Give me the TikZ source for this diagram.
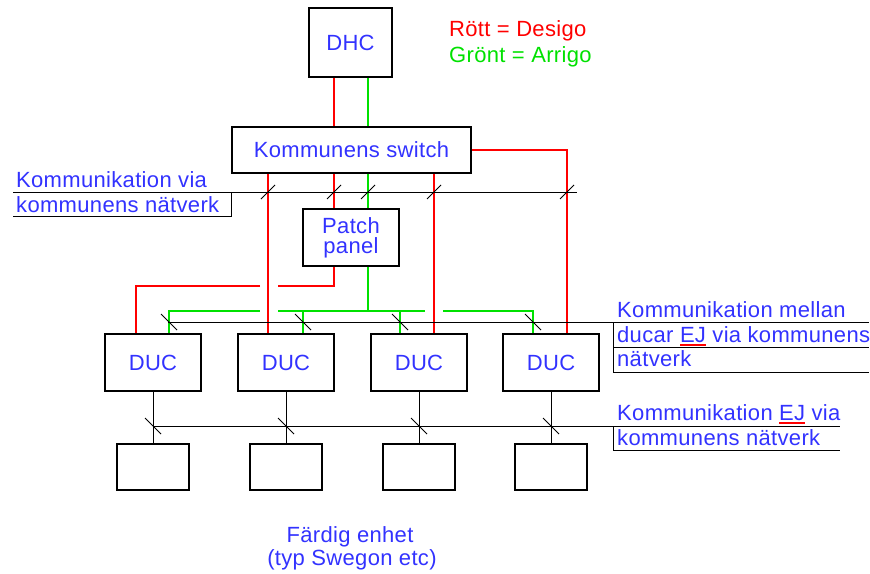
\documentclass[tikz,border=0pt]{standalone}
\usepackage{fontspec}
\setmainfont{Liberation Sans}[LetterSpace=1.5]
\usetikzlibrary{calc}

\definecolor{txtblue}{RGB}{50,50,255}
\definecolor{netred}{RGB}{255,0,0}
\definecolor{netgreen}{RGB}{0,225,0}

% EJ with red underline
\newcommand{\ejmark}{\setbox0=\hbox{EJ}\rlap{\color{netred}\rule[-4pt]{\wd0}{2.5pt}}EJ}

\tikzset{
  unitbox/.style={draw, line width=1.6pt, inner sep=0pt, minimum width=96, minimum height=57, text=txtblue},
  endbox/.style={draw, line width=1.6pt, inner sep=0pt, minimum width=72, minimum height=46},
  note/.style={inner sep=0pt, text=txtblue},
  redline/.style={netred, line width=1.6pt},
  greenline/.style={netgreen, line width=1.6pt},
  bus/.style={black, line width=0.8pt},
}

\begin{document}
\begin{tikzpicture}[x=1pt, y=-1pt, font=\fontsize{22}{24}\selectfont]
    \useasboundingbox (0,0) rectangle (870,573);
    \node[unitbox, minimum width=83, minimum height=69] (dhc) at (350.5,42.5) {DHC};
    \node[unitbox, minimum width=239, minimum height=46] (sw) at (351.5,150) {Kommunens switch};
    \node[unitbox, align=center] (patch) at (351,237.5) {Patch\\[-4pt]panel};
    \node[unitbox] (duc1) at (153,362.5) {DUC};
    \node[unitbox] (duc2) at (286,362.5) {DUC};
    \node[unitbox] (duc3) at (419,362.5) {DUC};
    \node[unitbox] (duc4) at (551,362.5) {DUC};
    \node[endbox] (fe1) at (153,467) {};
    \node[endbox] (fe2) at (286,467) {};
    \node[endbox] (fe3) at (419,467) {};
    \node[endbox] (fe4) at (551,467) {};
    % legend
    \node[anchor=base west, inner sep=0pt, text=netred] (legred) at (449,36) {Rött = Desigo};
    \node[anchor=base west, inner sep=0pt, text=netgreen] (leggreen) at (449,62) {Grönt = Arrigo};
    % Desigo
    \draw[redline] (334,0 |- dhc.south) -- (334,0 |- sw.north);
    \draw[redline] (268,0 |- sw.south) -- (268,0 |- duc2.north);
    \draw[redline] (334,0 |- sw.south) -- (334,0 |- patch.north);
    \draw[redline] (434,0 |- sw.south) -- (434,0 |- duc3.north);
    \draw[redline] (sw.east) -- (567,150) -- (567,0 |- duc4.north);
    \draw[redline] (334,0 |- patch.south) -- (334,286) -- (278,286);
    \draw[redline] (260,286) -- (136,286) -- (136,0 |- duc1.north);
    % Arrigo
    \draw[greenline] (368,0 |- dhc.south) -- (368,0 |- sw.north);
    \draw[greenline] (368,0 |- sw.south) -- (368,0 |- patch.north);
    \draw[greenline] (368,0 |- patch.south) -- (368,311);
    \draw[greenline] (169,0 |- duc1.north) -- (169,311) -- (260,311);
    \draw[greenline] (278,311) -- (425,311);
    \draw[greenline] (443,311) -- (533,311) -- (533,0 |- duc4.north);
    \draw[greenline] (303,311) -- (303,0 |- duc2.north);
    \draw[greenline] (400,311) -- (400,0 |- duc3.north);
    % nets
    \coordinate (netA) at (13,192);
    \coordinate (netB) at (168,322);
    \coordinate (netC) at (153,426);
    \draw[bus] (netA) -- (577,192);
    \draw[bus] (netB) -- (869,322);
    \draw[bus] (netC) -- (840,426);
    \foreach \i in {1,...,4}
        \draw[bus] (duc\i.south) -- (fe\i.north);
    \foreach \x in {268,334,368,434,567}
        \draw[bus] (\x-7,199) -- (\x+7,185);
    \foreach \x in {169,303,400,533}
        \draw[bus] (\x-8,314) -- (\x+8,330);
    \foreach \x in {153,286,419,551}
        \draw[bus] (\x-8,418) -- (\x+8,434);
    % labels
    \node[note, anchor=base west] (lblA1) at (16,187) {Kommunikation via};
    \node[note, anchor=base west] (lblA2) at (16,212) {kommunens nätverk};
    \draw[bus] (13,216) -- (231,216) -- (231,192);
    \node[note, anchor=base west] (lblB1) at (617,317) {Kommunikation mellan};
    \node[note, anchor=base west] (lblB2) at (617,342) {ducar \ejmark{} via kommunens};
    \node[note, anchor=base west] (lblB3) at (617,366) {nätverk};
    \draw[bus] (613,347) -- (869,347);
    \draw[bus] (613,322) -- (613,372) -- (869,372);
    \node[note, anchor=base west] (lblC1) at (617,420) {Kommunikation \ejmark{} via};
    \node[note, anchor=base west] (lblC2) at (617,445) {kommunens nätverk};
    \draw[bus] (613,426) -- (613,450) -- (840,450);
    \node[note, anchor=base] (lblD1) at (350,542) {Färdig enhet};
    \node[note, anchor=base] (lblD2) at (352,565) {(typ Swegon etc)};
\end{tikzpicture}
\end{document}
